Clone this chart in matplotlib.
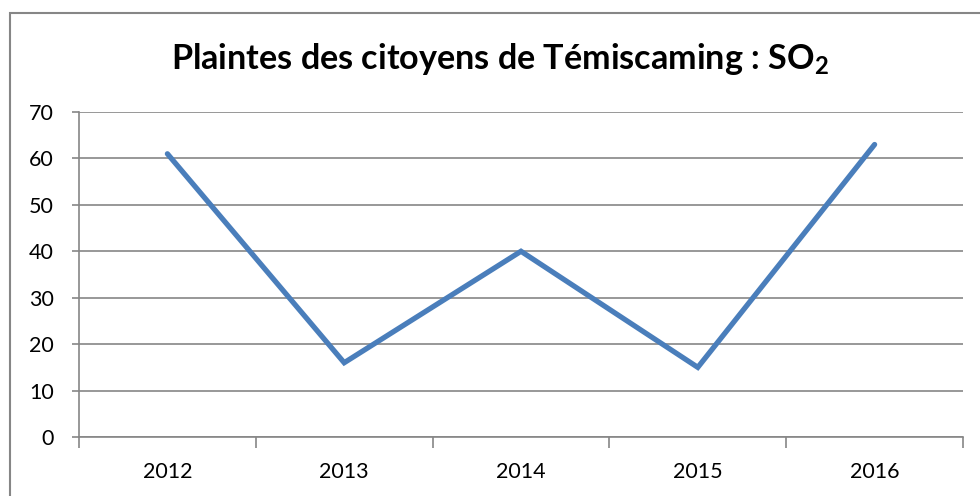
import matplotlib.pyplot as plt
from matplotlib.patches import Rectangle

years = ['2012', '2013', '2014', '2015', '2016']
plaintes = [61, 16, 40, 15, 63]

plt.rcParams['font.family'] = ['Lato', 'DejaVu Sans']
plt.rcParams['mathtext.fontset'] = 'custom'
plt.rcParams['mathtext.rm'] = 'Lato'
plt.rcParams['mathtext.bf'] = 'Lato:bold'

fig = plt.figure(figsize=(9.8, 4.96), dpi=100)
# outer chart border (only top and left are visible in the crop)
fig.patches.append(Rectangle((10 / 980, -0.1), 1.1, (496 - 13) / 496 + 0.1,
                             transform=fig.transFigure, fill=False,
                             edgecolor='#868686', linewidth=1.5))

ax = fig.add_axes([79 / 980, 59 / 496, 884 / 980, 325 / 496])
x = list(range(len(years)))
ax.plot(x, plaintes, color='#4A7EBB', linewidth=3.8, solid_capstyle='round',
        solid_joinstyle='miter', zorder=3)

ax.set_xlim(-0.5, len(years) - 0.5)
ax.set_ylim(0, 70)
ax.set_yticks(range(0, 71, 10))
ax.yaxis.grid(True, color='#868686', linewidth=1.2)
ax.set_axisbelow(True)

ax.set_xticks([i - 0.5 for i in range(len(years) + 1)])
ax.set_xticklabels([])
ax.set_xticks(x, minor=True)
ax.set_xticklabels(years, minor=True)
ax.tick_params(axis='x', which='major', length=8, width=1.2, color='#868686', direction='out')
ax.tick_params(axis='x', which='minor', length=0, pad=18, labelsize=15.5)
ax.tick_params(axis='y', length=5, width=1.2, color='#868686', pad=13, labelsize=15.5)

for s in ['top', 'right']:
    ax.spines[s].set_visible(False)
for s in ['left', 'bottom']:
    ax.spines[s].set_color('#868686')
    ax.spines[s].set_linewidth(1.2)

fig.text(0.51, (496 - 59) / 496, r'Plaintes des citoyens de Témiscaming : SO$_\mathbf{2}$',
         ha='center', va='center', fontsize=24.6, fontweight='bold')

fig.savefig('out.png', dpi=100)
